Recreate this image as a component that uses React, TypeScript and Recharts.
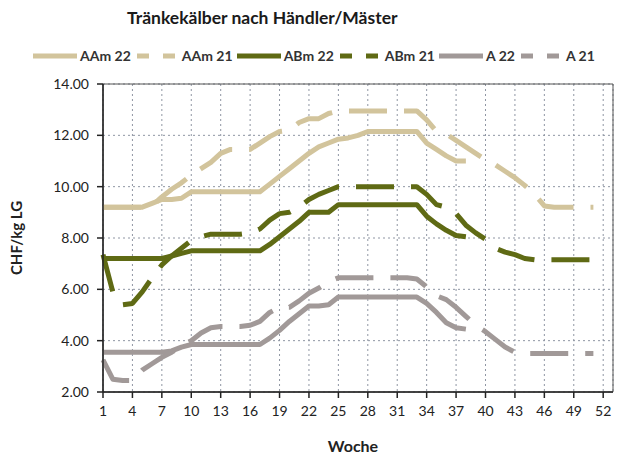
import { LineChart, Line, XAxis, YAxis, CartesianGrid, ReferenceArea } from "recharts";

const weeks = [
  1, 2, 3, 4, 5, 6, 7, 8, 9, 10, 11, 12, 13, 14, 15, 16, 17, 18, 19, 20, 21, 22, 23, 24, 25, 26,
  27, 28, 29, 30, 31, 32, 33, 34, 35, 36, 37, 38, 39, 40, 41, 42, 43, 44, 45, 46, 47, 48, 49, 50,
  51, 52,
];

const xTicks = [1, 4, 7, 10, 13, 16, 19, 22, 25, 28, 31, 34, 37, 40, 43, 46, 49, 52];
const yTicks = [2, 4, 6, 8, 10, 12, 14];

// 2022: weeks 1-38
const aam22 = [
  9.2, 9.2, 9.2, 9.2, 9.2, 9.35, 9.5, 9.5, 9.55, 9.8, 9.8, 9.8, 9.8, 9.8, 9.8, 9.8, 9.8, 10.1,
  10.4, 10.7, 11.0, 11.3, 11.55, 11.7, 11.85, 11.9, 12.0, 12.15, 12.15, 12.15, 12.15, 12.15, 12.15,
  11.7, 11.45, 11.2, 11.0, 11.0,
];
const abm22 = [
  7.2, 7.2, 7.2, 7.2, 7.2, 7.2, 7.2, 7.3, 7.4, 7.5, 7.5, 7.5, 7.5, 7.5, 7.5, 7.5, 7.5, 7.75, 8.05,
  8.35, 8.65, 9.0, 9.0, 9.0, 9.3, 9.3, 9.3, 9.3, 9.3, 9.3, 9.3, 9.3, 9.3, 8.85, 8.55, 8.3, 8.1, 8.05,
];
const a22 = [
  3.55, 3.55, 3.55, 3.55, 3.55, 3.55, 3.55, 3.6, 3.75, 3.85, 3.85, 3.85, 3.85, 3.85, 3.85, 3.85,
  3.85, 4.1, 4.4, 4.75, 5.05, 5.35, 5.35, 5.4, 5.7, 5.7, 5.7, 5.7, 5.7, 5.7, 5.7, 5.7, 5.7, 5.45,
  5.1, 4.7, 4.5, 4.45,
];

// 2021: weeks 1-51
const aam21 = [
  9.2, 9.2, 9.2, 9.2, 9.2, 9.25, 9.6, 9.9, 10.15, 10.45, 10.7, 10.95, 11.3, 11.45, 11.45, 11.45,
  11.7, 11.95, 12.15, 12.2, 12.5, 12.65, 12.65, 12.85, 12.95, 12.95, 12.95, 12.95, 12.95, 12.95,
  12.95, 12.95, 12.95, 12.6, 12.15, 12.05, 11.8, 11.55, 11.3, 11.05, 10.85, 10.6, 10.35, 10.05,
  9.7, 9.25, 9.2, 9.2, 9.2, 9.2, 9.2,
];
const abm21 = [
  7.35, 5.9, 5.4, 5.45, 5.9, 6.45, 6.95, 7.3, 7.6, 7.9, 8.05, 8.15, 8.15, 8.15, 8.15, 8.2, 8.35,
  8.7, 8.95, 9.0, 9.2, 9.5, 9.7, 9.85, 10.0, 10.0, 10.0, 10.0, 10.0, 10.0, 10.0, 10.0, 10.0, 9.7,
  9.3, 9.2, 8.95, 8.5, 8.2, 7.95, 7.6, 7.45, 7.35, 7.2, 7.15, 7.15, 7.15, 7.15, 7.15, 7.15, 7.15,
];
const a21 = [
  3.25, 2.5, 2.45, 2.45, 2.85, 3.1, 3.35, 3.55, 3.8, 4.0, 4.3, 4.5, 4.55, 4.55, 4.55, 4.6, 4.75,
  5.1, 5.3, 5.3, 5.55, 5.85, 6.05, 6.3, 6.45, 6.45, 6.45, 6.45, 6.45, 6.45, 6.45, 6.45, 6.4, 6.1,
  5.75, 5.6, 5.3, 4.95, 4.6, 4.35, 4.05, 3.75, 3.55, 3.5, 3.5, 3.5, 3.5, 3.5, 3.5, 3.5, 3.5,
];

const TAN = "#d2c49c";
const OLIVE = "#5f6a14";
const GREY = "#a19998";
const DASH = "38 17";

const series = [
  { key: "aam22", name: "AAm 22", color: TAN, dashed: false, values: aam22 },
  { key: "aam21", name: "AAm 21", color: TAN, dashed: true, values: aam21 },
  { key: "abm22", name: "ABm 22", color: OLIVE, dashed: false, values: abm22 },
  { key: "abm21", name: "ABm 21", color: OLIVE, dashed: true, values: abm21 },
  { key: "a22", name: "A 22", color: GREY, dashed: false, values: a22 },
  { key: "a21", name: "A 21", color: GREY, dashed: true, values: a21 },
];

const data = weeks.map((week, i) => {
  const row: Record<string, number | null> = { week };
  series.forEach((s) => {
    row[s.key] = s.values[i] ?? null;
  });
  return row;
});

const FONT = "Lato, 'Open Sans', sans-serif";

function YLabel({ viewBox }: any) {
  const cx = viewBox.x + 16;
  const cy = viewBox.y + viewBox.height / 2;
  return (
    <text
      x={cx}
      y={cy}
      transform={`rotate(-90 ${cx} ${cy})`}
      textAnchor="middle"
      dominantBaseline="central"
      fontSize={15}
      fontWeight={700}
      fill="#222"
    >
      CHF/kg LG
    </text>
  );
}

export default function App() {
  return (
    <div
      style={{
        position: "absolute",
        left: 0,
        top: 0,
        width: 623,
        height: 459,
        background: "#fff",
        fontFamily: FONT,
      }}
    >
      <div
        style={{
          position: "absolute",
          left: 127,
          top: 7,
          fontSize: 17.5,
          fontWeight: 700,
          color: "#1a1a1a",
          whiteSpace: "nowrap",
        }}
      >
        Tränkekälber nach Händler/Mäster
      </div>
      <div
        style={{
          position: "absolute",
          left: 33,
          top: 47,
          display: "flex",
          alignItems: "center",
          whiteSpace: "nowrap",
        }}
      >
        {series.map((s) => (
          <div key={s.key} style={{ display: "flex", alignItems: "center", marginRight: 4 }}>
            <svg width={44} height={10}>
              <line
                x1={s.dashed ? 2 : 0}
                y1={5}
                x2={s.dashed ? 40 : 44}
                y2={5}
                stroke={s.color}
                strokeWidth={5}
                strokeDasharray={s.dashed ? "12 14" : undefined}
              />
            </svg>
            <span style={{ fontSize: 14, fontWeight: 700, color: "#333", marginLeft: 3 }}>
              {s.name}
            </span>
          </div>
        ))}
      </div>
      <LineChart
        width={623}
        height={459}
        data={data}
        margin={{ top: 84, right: 10, bottom: 5, left: 0 }}
        style={{ fontFamily: FONT }}
      >
        <CartesianGrid stroke="#8f96a3" strokeDasharray="2 3" strokeWidth={1} />
        <XAxis
          dataKey="week"
          type="number"
          domain={[1, 53]}
          ticks={xTicks}
          interval={0}
          height={62}
          tickSize={6}
          tickMargin={8}
          tick={{ fill: "#222", fontSize: 14 }}
          stroke="#222"
          strokeWidth={1.5}
          label={{
            value: "Woche",
            position: "insideBottom",
            offset: 2,
            dx: -5,
            fill: "#222",
            fontSize: 16,
            fontWeight: 700,
          }}
        />
        <YAxis
          type="number"
          domain={[2, 14]}
          ticks={yTicks}
          interval={0}
          width={103}
          tickSize={6}
          tickMargin={8}
          tickFormatter={(v: number) => v.toFixed(2)}
          tick={{ fill: "#222", fontSize: 14 }}
          stroke="#222"
          strokeWidth={1.5}
          label={{ content: YLabel }}
        />
        <ReferenceArea x1={1} x2={53} y1={2} y2={14} fill="none" stroke="#555" strokeWidth={1} ifOverflow="visible" />
        {series.map((s) => (
          <Line
            key={s.key}
            dataKey={s.key}
            name={s.name}
            type="linear"
            stroke={s.color}
            strokeWidth={5}
            strokeDasharray={s.dashed ? DASH : undefined}
            strokeLinejoin="round"
            dot={false}
            activeDot={false}
            connectNulls={false}
            isAnimationActive={false}
          />
        ))}
      </LineChart>
    </div>
  );
}
